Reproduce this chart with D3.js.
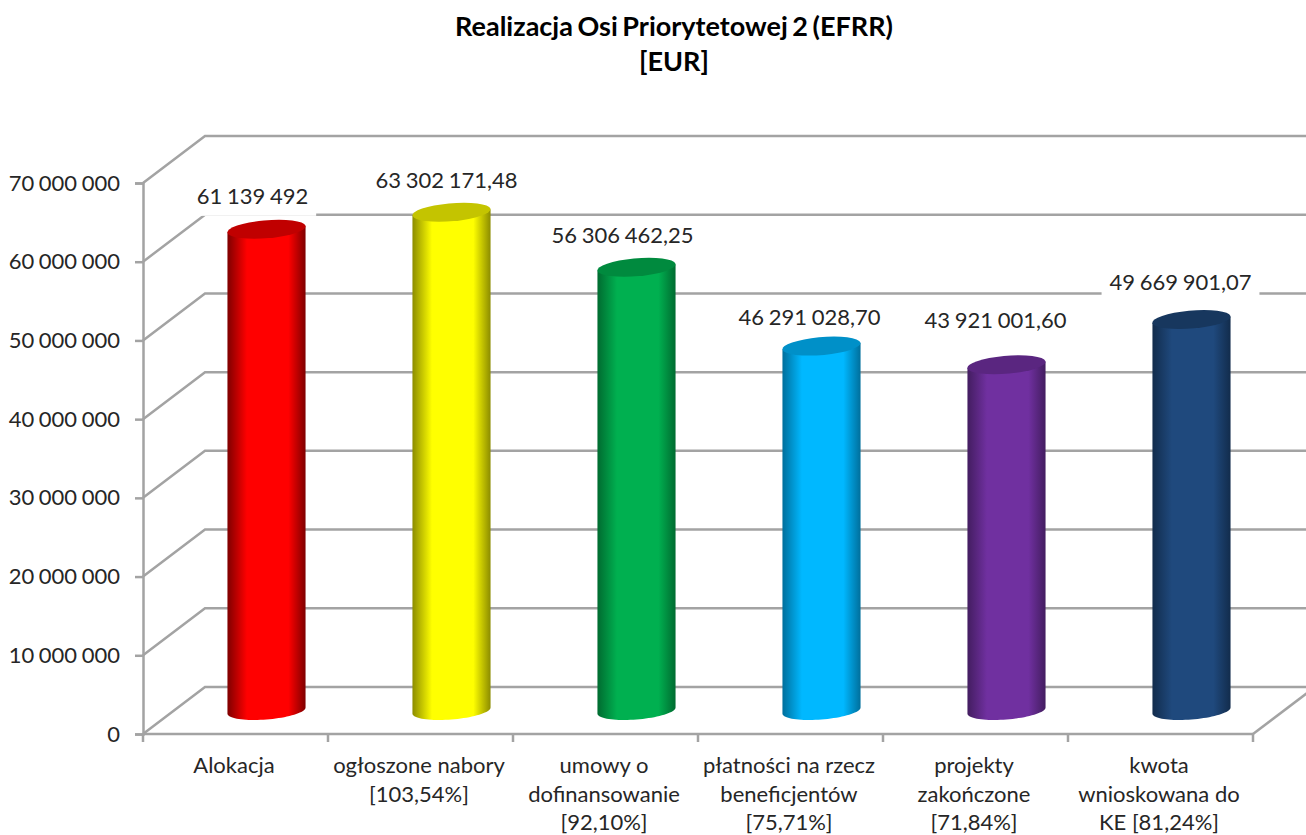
<!DOCTYPE html>
<html>
<head>
<meta charset="utf-8">
<style>
  html, body { margin: 0; padding: 0; background: #fff; }
  svg { display: block; }
  text { font-family: Lato, "Open Sans", sans-serif; fill: #262626; }
  .grid { stroke: #a3a3a3; stroke-width: 2.5; fill: none; }
</style>
<script src="https://cdn.jsdelivr.net/npm/d3@7"></script>
</head>
<body>
<script>
// chart data
var titleLines = ["Realizacja Osi Priorytetowej 2 (EFRR)", "[EUR]"];
var categories = ["Alokacja", "ogłoszone nabory", "umowy o dofinansowanie", "płatności na rzecz beneficjentów", "projekty zakończone", "kwota wnioskowana do KE"];
var categoryLines = [
    ["Alokacja"],
    ["ogłoszone nabory", "[103,54%]"],
    ["umowy o", "dofinansowanie", "[92,10%]"],
    ["płatności na rzecz", "beneficjentów", "[75,71%]"],
    ["projekty", "zakończone", "[71,84%]"],
    ["kwota", "wnioskowana do", "KE [81,24%]"]
];
var values = [61139492, 63302171.48, 56306462.25, 46291028.70, 43921001.60, 49669901.07];
var yTicks = [0, 10000000, 20000000, 30000000, 40000000, 50000000, 60000000, 70000000];

// bar colours: [edge, middle, top]
var barColors = [
    ["#7f0000", "#ff0000", "#c00000"],
    ["#8c8c00", "#ffff00", "#c4c400"],
    ["#006b30", "#00b050", "#008a3e"],
    ["#006f9c", "#00b8ff", "#0090c8"],
    ["#431d60", "#7030a0", "#5a2680"],
    ["#122c4c", "#1f497d", "#17375e"]
];

// data labels were moved by hand in the original, so they sit unevenly
var labelShift = [[-14, -33], [-5, -32], [-14, -32], [-12, -29], [-11, -44], [-11, -37]];
var labelMask = [true, false, false, false, false, true];

var width = 1306, height = 835;
var depth = {x: 62, y: -47};   // front wall to back wall

var x = d3.scaleBand().domain(categories).range([143, 1253]);
var y = d3.scaleLinear().domain([0, 70000000]).range([734, 183]);

var locale = d3.formatLocale({decimal: ",", thousands: " ", grouping: [3], currency: ["", ""]});
var fmtInt = locale.format(",d"), fmtDec = locale.format(",.2f");

var svg = d3.select("body").append("svg")
    .attr("width", width)
    .attr("height", height);

// title
svg.append("g").selectAll("text")
    .data(titleLines)
    .enter().append("text")
    .attr("x", 674)
    .attr("y", function(d, i) { return 36 + i * 35; })
    .attr("text-anchor", "middle")
    .style("font-size", "27px")
    .style("font-weight", 700)
    .style("word-spacing", "-2px")
    .style("fill", "#000")
    .text(function(d) { return d; });

// walls: slanted line + back line for every tick
var grid = svg.append("g");
grid.selectAll("path")
    .data(yTicks)
    .enter().append("path")
    .attr("class", "grid")
    .attr("d", function(d) {
        var y0 = y(d);
        return "M" + x.range()[0] + "," + y0 + "L" + (x.range()[0] + depth.x) + "," + (y0 + depth.y) + "H" + width;
    });

// floor right edge
grid.append("path")
    .attr("class", "grid")
    .attr("d", "M" + x.range()[1] + "," + y(0) + "l" + depth.x + "," + depth.y);

// y axis
var yAxis = d3.axisLeft(y)
    .tickValues(yTicks)
    .tickSize(8)
    .tickPadding(15)
    .tickFormat(function(d) { return fmtInt(d); });

var yG = svg.append("g")
    .attr("transform", "translate(" + x.range()[0] + ",0)")
    .call(yAxis);
yG.selectAll("path, line").attr("stroke", "#a3a3a3").attr("stroke-width", 2.5);
yG.selectAll("text")
    .style("font-size", "22px")
    .style("font-family", "Lato")
    .style("word-spacing", "-1px");

// x axis, ticks on the category boundaries
var xG = svg.append("g");
xG.append("line")
    .attr("class", "grid")
    .attr("x1", x.range()[0]).attr("x2", x.range()[1])
    .attr("y1", y(0)).attr("y2", y(0));
xG.selectAll(".tick")
    .data(d3.range(categories.length + 1))
    .enter().append("line")
    .attr("class", "grid tick")
    .attr("x1", function(i) { return x.range()[0] + i * x.step(); })
    .attr("x2", function(i) { return x.range()[0] + i * x.step(); })
    .attr("y1", y(0))
    .attr("y2", y(0) + 8);

xG.selectAll(".cat")
    .data(categoryLines)
    .enter().append("text")
    .attr("class", "cat")
    .attr("text-anchor", "middle")
    .style("font-size", "22px")
    .each(function(lines, i) {
        d3.select(this).selectAll("tspan")
            .data(lines)
            .enter().append("tspan")
            .attr("x", x(categories[i]) + x.bandwidth() / 2 - 1.5)
            .attr("y", function(d, j) { return 773 + j * 28.5; })
            .text(function(d) { return d; });
    });

// gradients
var defs = svg.append("defs");
barColors.forEach(function(c, i) {
    var g = defs.append("linearGradient").attr("id", "bar" + i);
    [[0, c[0]], [0.25, c[1]], [0.78, c[1]], [1, c[0]]].forEach(function(s) {
        g.append("stop").attr("offset", s[0]).attr("stop-color", s[1]);
    });
});

// cylinders: the circle is seen through the same skew as the chart depth
var radX = 37, radDx = 12.5, radDy = -9.5;
var sideAngle = Math.atan2(radDx, radX);
var lowerArc = d3.range(0, 41).map(function(k) { return sideAngle - k / 40 * Math.PI; });

function barCentre(i) {
    return x(categories[i]) + x.bandwidth() / 2 + depth.x / 2;
}
function ringPoint(cx, cy, t) {
    return [cx + radX * Math.cos(t) + radDx * Math.sin(t), cy + radDy * Math.sin(t)];
}

var labelX = function(i) { return barCentre(i) + labelShift[i][0]; };
var labelY = function(i) { return y(values[i]) + depth.y / 2 + labelShift[i][1]; };

// masks behind the labels that hide the gridlines, filled in once the labels are measured
var maskG = svg.append("g");

var bars = svg.append("g").selectAll("g")
    .data(values)
    .enter().append("g");

bars.append("path")
    .attr("fill", function(d, i) { return "url(#bar" + i + ")"; })
    .attr("d", function(d, i) {
        var cx = barCentre(i), top = y(d) + depth.y / 2, bottom = y(0) + depth.y / 2;
        var a = ringPoint(cx, top, sideAngle);
        var pts = lowerArc.map(function(t) { return ringPoint(cx, bottom, t); });
        var b = ringPoint(cx, top, sideAngle - Math.PI);
        return d3.line()([a].concat(pts, [b])) + "Z";
    });

bars.append("circle")
    .attr("r", 1)
    .attr("fill", function(d, i) { return barColors[i][2]; })
    .attr("transform", function(d, i) {
        return "matrix(" + radX + ",0," + radDx + "," + radDy + "," + barCentre(i) + "," + (y(d) + depth.y / 2) + ")";
    });

// data labels
var labels = svg.append("g").selectAll("text")
    .data(values)
    .enter().append("text")
    .attr("x", function(d, i) { return labelX(i); })
    .attr("y", function(d, i) { return labelY(i) + 7.5; })
    .attr("text-anchor", "middle")
    .style("font-size", "22px")
    .style("word-spacing", "-1px")
    .text(function(d) { return d % 1 ? fmtDec(d) : fmtInt(d); });

labels.each(function(d, i) {
    if (!labelMask[i]) return;
    var w = this.getComputedTextLength();
    maskG.append("rect")
        .attr("fill", "#fff")
        .attr("x", labelX(i) - w / 2 - 8)
        .attr("y", labelY(i) - 14)
        .attr("width", w + 16)
        .attr("height", 33.6);
});
</script>
</body>
</html>
